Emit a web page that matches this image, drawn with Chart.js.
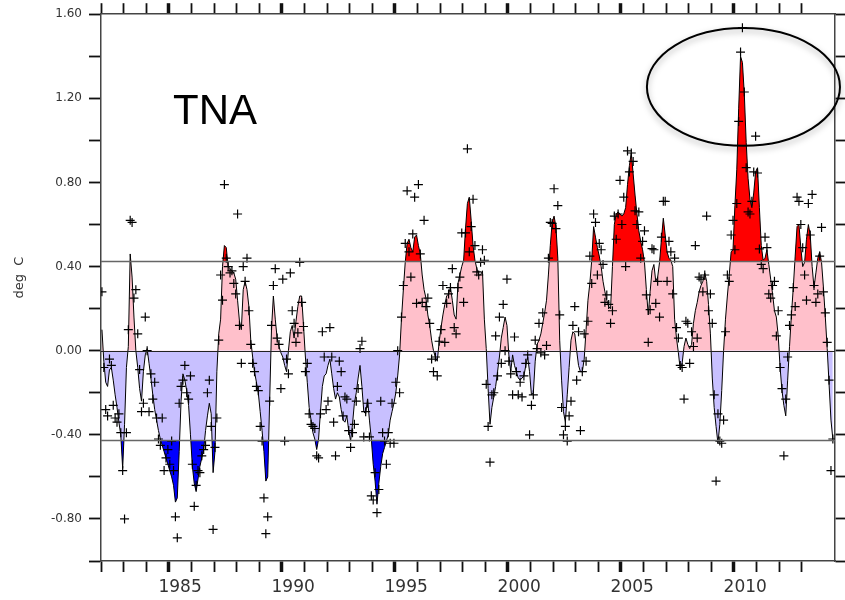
<!DOCTYPE html>
<html>
<head>
<meta charset="utf-8">
<script src="https://cdn.jsdelivr.net/npm/chart.js@4.4.1/dist/chart.umd.min.js"></script>
<style>
  html, body { margin: 0; padding: 0; background: #fff; }
  #wrap { width: 845px; height: 600px; }
</style>
</head>
<body>
<div id="wrap"><canvas id="tnaChart" width="845" height="600"></canvas></div>
<script>
// TNA index, monthly from Jan 1982
const startYear = 1982;

// smoothed curve (deg C), one row per year
const smoothed = [
  0.10, -0.05, -0.15, -0.17, -0.09, -0.08, -0.14, -0.21, -0.27, -0.34, -0.40, -0.56,
  -0.35, -0.08, 0.02, 0.46, 0.35, 0.16, 0.00, -0.08, -0.18, -0.24, -0.10, -0.02,
  0.01, -0.06, -0.13, -0.21, -0.28, -0.33, -0.38, -0.42, -0.45, -0.48, -0.51, -0.54,
  -0.57, -0.60, -0.64, -0.72, -0.70, -0.48, -0.24, -0.11, -0.14, -0.19, -0.26, -0.40,
  -0.55, -0.63, -0.67, -0.61, -0.55, -0.51, -0.47, -0.38, -0.31, -0.25, -0.30, -0.58,
  -0.48, -0.10, 0.08, 0.15, 0.40, 0.50, 0.49, 0.40, 0.39, 0.38, 0.37, 0.34,
  0.24, 0.14, 0.10, 0.29, 0.33, 0.29, 0.21, 0.05, -0.03, -0.10, -0.15, -0.20,
  -0.29, -0.38, -0.48, -0.62, -0.60, -0.25, 0.10, 0.26, 0.15, 0.06, 0.02, -0.01,
  -0.03, -0.07, -0.10, 0.00, 0.09, 0.12, 0.06, 0.14, 0.21, 0.26, 0.26, 0.12,
  -0.03, -0.15, -0.27, -0.33, -0.39, -0.42, -0.47, -0.42, -0.29, -0.17, -0.12, -0.11,
  -0.07, -0.04, -0.11, -0.18, -0.23, -0.20, -0.22, -0.28, -0.33, -0.34, -0.31, -0.38,
  -0.43, -0.35, -0.25, -0.20, -0.13, -0.07, -0.17, -0.29, -0.30, -0.23, -0.33, -0.42,
  -0.54, -0.62, -0.73, -0.63, -0.55, -0.49, -0.46, -0.43, -0.40, -0.33, -0.29, -0.25,
  -0.20, -0.12, -0.02, 0.15, 0.29, 0.42, 0.51, 0.53, 0.49, 0.47, 0.54, 0.55,
  0.50, 0.46, 0.36, 0.29, 0.25, 0.17, 0.12, 0.05, 0.00, -0.03, -0.05, 0.04,
  0.11, 0.17, 0.22, 0.26, 0.27, 0.30, 0.24, 0.17, 0.15, 0.32, 0.36, 0.40,
  0.43, 0.58, 0.70, 0.73, 0.62, 0.50, 0.43, 0.39, 0.36, 0.36, 0.38, 0.15,
  0.01, -0.18, -0.35, -0.27, -0.22, -0.17, -0.10, -0.03, 0.06, 0.11, 0.16, 0.12,
  -0.02, -0.10, -0.02, -0.07, -0.10, -0.13, -0.14, -0.13, -0.12, -0.07, -0.03, -0.10,
  -0.21, -0.20, -0.05, 0.03, 0.05, 0.08, 0.13, 0.18, 0.24, 0.36, 0.50, 0.61,
  0.64, 0.59, 0.44, 0.05, -0.14, -0.29, -0.34, -0.21, -0.08, 0.05, 0.09, 0.08,
  0.00, -0.07, -0.10, -0.10, -0.04, 0.10, 0.24, 0.32, 0.43, 0.59, 0.54, 0.49,
  0.45, 0.40, 0.33, 0.28, 0.24, 0.21, 0.20, 0.40, 0.60, 0.65, 0.66, 0.65,
  0.64, 0.65, 0.68, 0.79, 0.88, 0.94, 0.84, 0.74, 0.65, 0.57, 0.52, 0.48,
  0.42, 0.29, 0.17, 0.28, 0.38, 0.41, 0.33, 0.35, 0.42, 0.53, 0.63, 0.55,
  0.47, 0.44, 0.43, 0.40, 0.15, 0.06, -0.01, -0.09, -0.06, 0.02, 0.06, 0.03,
  0.01, 0.03, 0.13, 0.19, 0.23, 0.28, 0.31, 0.33, 0.37, 0.33, 0.22, 0.08,
  -0.13, -0.27, -0.36, -0.44, -0.35, -0.19, 0.00, 0.15, 0.26, 0.36, 0.47, 0.48,
  0.69, 0.86, 1.15, 1.40, 1.37, 1.22, 0.99, 0.82, 0.72, 0.68, 0.75, 0.85,
  0.87, 0.68, 0.50, 0.43, 0.44, 0.48, 0.41, 0.34, 0.27, 0.19, 0.16, 0.07,
  -0.08, -0.19, -0.26, -0.31, -0.14, 0.02, 0.17, 0.30, 0.45, 0.59, 0.60, 0.49,
  0.40, 0.42, 0.53, 0.60, 0.55, 0.40, 0.30, 0.37, 0.44, 0.47, 0.42, 0.30,
  0.16, 0.01, -0.16, -0.33, -0.42
];

// raw monthly values (the + marks)
const monthly = [
  0.28, -0.08, -0.28, -0.31, -0.04, -0.07, -0.26, -0.32, -0.34, -0.30, -0.39, -0.57,
  -0.80, -0.39, 0.10, 0.62, 0.61, 0.25, 0.29, 0.08, -0.09, -0.29, -0.25, 0.16,
  0.00, -0.29, -0.11, -0.23, -0.15, -0.32, -0.42, -0.45, -0.32, -0.57, -0.51, -0.47,
  -0.54, -0.43, -0.57, -0.79, -0.89, -0.25, -0.17, -0.14, -0.07, -0.20, -0.23, -0.12,
  -0.54, -0.74, -0.64, -0.57, -0.58, -0.50, -0.47, -0.45, -0.20, -0.14, -0.36, -0.85,
  -0.46, -0.32, 0.05, 0.36, 0.24, 0.79, 0.44, 0.40, 0.37, 0.38, 0.32, 0.27,
  0.65, 0.12, -0.06, 0.40, 0.33, 0.44, 0.19, 0.03, -0.06, -0.10, -0.17, -0.19,
  -0.36, -0.43, -0.70, -0.87, -0.79, -0.24, 0.12, 0.31, 0.39, 0.06, 0.03, -0.18,
  0.34, -0.43, -0.04, -0.11, 0.37, 0.19, 0.13, 0.04, 0.085, 0.42, 0.23, 0.115,
  -0.10, -0.06, -0.30, -0.35, -0.36, -0.37, -0.50, -0.51, -0.30, 0.09, -0.03, -0.28,
  -0.24, 0.11, -0.03, -0.34, -0.50, -0.17, -0.05, -0.10, -0.31, -0.22, -0.23, -0.38,
  -0.46, -0.39, -0.35, -0.24, -0.18, 0.01, 0.045, -0.41, -0.29, -0.25, -0.41, -0.69,
  -0.71, -0.58, -0.77, -0.66, -0.24, -0.39, -0.43, -0.54, -0.39, -0.44, -0.25, -0.44,
  -0.15, 0.00, -0.20, 0.16, 0.31, 0.51, 0.76, 0.47, 0.35, 0.555, 0.73, 0.225,
  0.79, 0.46, 0.23, 0.62, 0.21, 0.25, 0.13, -0.04, -0.10, -0.03, -0.12, 0.045,
  0.10, 0.31, 0.04, 0.225, 0.27, 0.30, 0.39, 0.11, 0.08, 0.30, 0.35, 0.56,
  0.23, 0.56, 0.96, 0.47, 0.59, 0.72, 0.50, 0.375, 0.36, 0.42, 0.48, 0.43,
  -0.16, -0.36, -0.53, -0.21, -0.20, 0.07, -0.12, 0.16, -0.06, 0.22, 0.00, 0.34,
  -0.05, -0.11, -0.21, 0.065, -0.10, -0.21, -0.15, -0.22, -0.12, -0.06, -0.02, -0.40,
  -0.26, -0.21, 0.05, 0.01, 0.13, -0.01, 0.18, -0.02, 0.025, 0.44, 0.61, 0.605,
  0.77, 0.58, 0.69, 0.17, -0.27, -0.40, -0.36, -0.43, -0.31, -0.24, 0.12, 0.21,
  -0.14, 0.09, -0.38, -0.10, 0.08, -0.05, 0.14, 0.45, 0.32, 0.65, 0.61, 0.36,
  0.51, 0.48, 0.41, 0.23, 0.265, 0.22, 0.13, 0.19, 0.64, 0.53, 0.65, 0.81,
  0.60, 0.73, 0.40, 0.95, 0.85, 0.94, 0.90, 0.665, 0.60, 0.66, 0.44, 0.52,
  0.57, 0.265, 0.04, 0.195, 0.485, 0.48, 0.225, 0.33, 0.16, 0.54, 0.71, 0.71,
  0.33, 0.52, 0.47, 0.27, 0.44, 0.11, 0.06, -0.07, -0.08, -0.23, 0.14, 0.13,
  -0.06, 0.09, 0.02, 0.50, 0.06, 0.35, 0.34, 0.28, 0.36, 0.64, 0.19, 0.27,
  0.13, -0.21, -0.62, -0.30, -0.43, -0.44, -0.33, 0.09, 0.36, 0.33, 0.55, 0.62,
  0.48, 0.70, 1.09, 1.42, 1.535, 1.23, 0.87, 0.66, 0.65, 0.71, 0.85, 1.02,
  0.845, 0.484, 0.41, 0.39, 0.54, 0.49, 0.27, 0.25, 0.31, 0.33, 0.07, 0.19,
  -0.08, -0.18, -0.50, -0.23, -0.03, 0.12, 0.17, 0.30, 0.21, 0.73, 0.71, 0.60,
  0.49, 0.36, 0.24, 0.70, 0.55, 0.743, 0.31, 0.23, 0.27, 0.45, 0.586, 0.28,
  0.18, 0.04, -0.14, -0.57, -0.42
];

const thresholds = [0.425, -0.425];      // +/- 1 std dev lines
const xLabelYears = [1985, 1990, 1995, 2000, 2005, 2010];
const yLabelValues = [-0.8, -0.4, 0, 0.4, 0.8, 1.2, 1.6];
const xRange = [1982, 2014.47];
const yRange = [-1.0, 1.6];
const panelTitle = 'TNA';
const unitLabel = 'deg  C';
// highlighted region (centre year, centre value, half-width years, half-height deg C)
const highlight = [2010.42, 1.254, 4.27, 0.28];

const PINK = 'rgb(255,192,203)';
const LAVENDER = 'rgb(200,192,255)';
const RED = 'rgb(255,0,0)';
const BLUE = 'rgb(0,0,255)';
const CLEAR = 'rgba(0,0,0,0)';
const AXIS = '#444';
const TICK = '#111';

Chart.defaults.font.family = "'DejaVu Sans', sans-serif";
Chart.defaults.color = '#333';

const monthX = i => startYear + (i + 0.5) / 12;
const curve = smoothed.map((v, i) => ({ x: monthX(i), y: v }));
const marks = monthly.map((v, i) => ({ x: monthX(i), y: v }));

const tickVal = ctx => (ctx && ctx.tick) ? ctx.tick.value : NaN;
const isYear = v => Math.abs(v - Math.round(v)) < 1e-6;

function xTicks(showLabels, height) {
    return {
        type: 'linear',
        min: xRange[0],
        max: xRange[1],
        border: { color: AXIS, width: 1.5 },
        grid: {
            drawOnChartArea: false,
            drawTicks: true,
            tickLength: 11,
            tickColor: ctx => isYear(tickVal(ctx)) ? TICK : CLEAR,
            tickWidth: ctx => (isYear(tickVal(ctx)) && Math.round(tickVal(ctx)) % 5 === 0) ? 3.5 : 1.8
        },
        ticks: {
            display: showLabels,
            stepSize: 0.5,
            autoSkip: false,
            maxRotation: 0,
            padding: 5,
            font: { size: 17 },
            color: '#333',
            callback: v => {
                const f = Math.floor(v);
                return (Math.abs(v - f - 0.5) < 1e-6 && xLabelYears.includes(f)) ? String(f) : '';
            }
        },
        afterFit: s => { s.height = height; }
    };
}

function yTicks(showLabels, width) {
    return {
        min: yRange[0],
        max: yRange[1],
        border: { color: AXIS, width: 1.5 },
        grid: { drawOnChartArea: false, drawTicks: true, tickLength: 12, tickColor: TICK, tickWidth: 1.8 },
        ticks: {
            display: showLabels,
            stepSize: 0.2,
            padding: 7,
            font: { size: 12 },
            color: '#333',
            callback: v => yLabelValues.some(t => Math.abs(t - v) < 1e-6) ? v.toFixed(2) : ''
        },
        afterFit: s => { s.width = width; }
    };
}

const decor = {
    id: 'decor',
    afterDatasetsDraw(chart) {
        const { ctx, chartArea: a, scales: { x, y } } = chart;
        ctx.save();
        // reference lines
        ctx.strokeStyle = '#666';
        ctx.lineWidth = 1.5;
        thresholds.forEach(t => {
            const py = Math.round(y.getPixelForValue(t)) + 0.5;
            ctx.beginPath(); ctx.moveTo(a.left, py); ctx.lineTo(a.right, py); ctx.stroke();
        });
        ctx.strokeStyle = '#222';
        ctx.lineWidth = 1;
        const zy = Math.round(y.getPixelForValue(0)) + 0.5;
        ctx.beginPath(); ctx.moveTo(a.left, zy); ctx.lineTo(a.right, zy); ctx.stroke();

        // panel title
        ctx.fillStyle = '#000';
        ctx.font = "42px 'Liberation Sans', Arial, sans-serif";
        ctx.textBaseline = 'alphabetic';
        ctx.fillText(panelTitle, a.left + 72, a.top + 110);

        // highlight ellipse with soft shadow
        const cx = x.getPixelForValue(highlight[0]);
        const cy = y.getPixelForValue(highlight[1]);
        const rx = x.getPixelForValue(highlight[0] + highlight[2]) - cx;
        const ry = cy - y.getPixelForValue(highlight[1] + highlight[3]);
        ctx.shadowColor = 'rgba(0,0,0,0.35)';
        ctx.shadowBlur = 6;
        ctx.shadowOffsetY = 3;
        ctx.strokeStyle = '#000';
        ctx.lineWidth = 2;
        ctx.beginPath();
        ctx.ellipse(cx, cy, rx, ry, 0, 0, Math.PI * 2);
        ctx.stroke();
        ctx.restore();

        // unit label
        ctx.save();
        ctx.translate(20, (a.top + a.bottom) / 2 - 10);
        ctx.rotate(-Math.PI / 2);
        ctx.font = "13px 'DejaVu Sans', sans-serif";
        ctx.fillStyle = '#333';
        ctx.textAlign = 'center';
        ctx.textBaseline = 'middle';
        ctx.fillText(unitLabel, 0, 0);
        ctx.restore();
    }
};

new Chart(document.getElementById('tnaChart'), {
    type: 'line',
    data: {
        datasets: [
            { // smoothed index line
                data: curve, borderColor: '#000', borderWidth: 1, pointRadius: 0,
                tension: 0, fill: false, order: 2
            },
            { // anomaly fill about zero
                data: curve, borderWidth: 0, pointRadius: 0, tension: 0, order: 5,
                fill: { target: { value: 0 }, above: PINK, below: LAVENDER }
            },
            { // beyond +1 sd
                data: curve, borderWidth: 0, pointRadius: 0, tension: 0, order: 4,
                fill: { target: { value: thresholds[0] }, above: RED, below: CLEAR }
            },
            { // beyond -1 sd
                data: curve, borderWidth: 0, pointRadius: 0, tension: 0, order: 4,
                fill: { target: { value: thresholds[1] }, above: CLEAR, below: BLUE }
            },
            { // monthly values
                data: marks, showLine: false, pointStyle: 'cross', pointRadius: 4.5,
                borderColor: '#000', borderWidth: 1.2, order: 1
            }
        ]
    },
    options: {
        responsive: false,
        animation: false,
        devicePixelRatio: 1,
        layout: { padding: 0 },
        events: [],
        scales: {
            x: xTicks(true, 39),
            xTop: Object.assign(xTicks(false, 9), { position: 'top' }),
            y: yTicks(true, 101),
            yRight: Object.assign(yTicks(false, 10), { position: 'right' })
        },
        plugins: {
            legend: { display: false },
            tooltip: { enabled: false }
        }
    },
    plugins: [decor]
});
</script>
</body>
</html>
